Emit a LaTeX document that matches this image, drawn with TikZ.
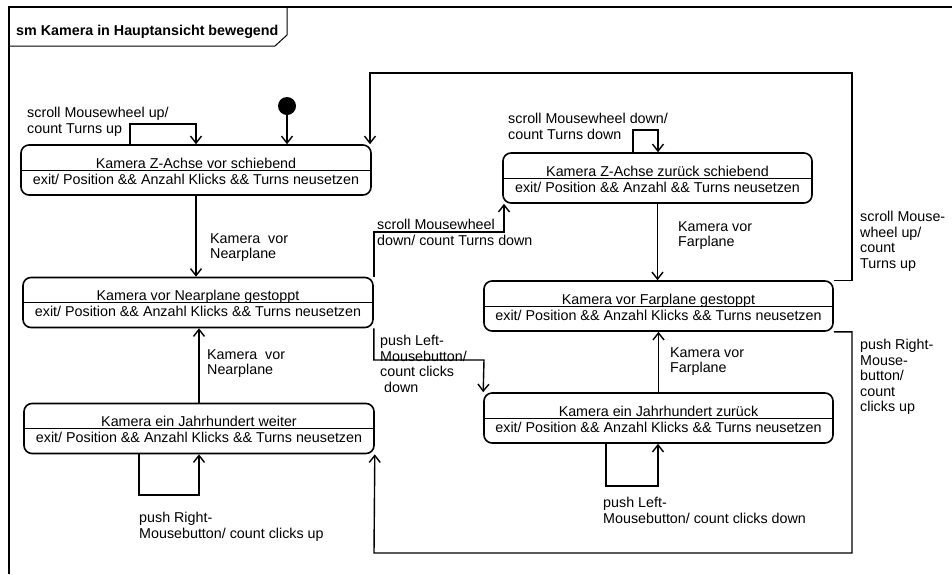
\documentclass[tikz,border=0pt]{standalone}
\usepackage{fontspec}
\setmainfont{Liberation Sans}
\usetikzlibrary{arrows.meta}
\begin{document}
\begin{tikzpicture}[x=1pt,y=-1pt,
  every node/.style={font=\fontsize{14.3}{15.5}\selectfont, inner sep=0pt},
  statebox/.style={draw, line width=1.6pt, rounded corners=8pt, minimum width=#1, minimum height=50pt, inner sep=0pt},
  divider/.style={line width=0.8pt},
  arr/.style={line width=1.4pt, -{Straight Barb[length=7pt,width=11pt]}},
  lbl/.style={anchor=north west, align=left},
  stxt/.style={anchor=base}]
\useasboundingbox (0,0) rectangle (952,574);
\fill[white] (0,0) rectangle (952,574);
% frame
\draw[line width=1.6pt] (952,7) -- (9,7) -- (9,574);
\draw[line width=1pt] (9,46) -- (275,46) -- (287,35) -- (287,7);
\node[anchor=base west] (title) at (16,35) {\bfseries sm Kamera in Hauptansicht bewegend};

% states
\node[statebox=350pt] (n1) at (196,170) {};
\draw[divider] (n1.west) -- (n1.east);
\node[stxt] (n1t) at (196,168) {Kamera Z-Achse vor schiebend};
\node[stxt] (n1e) at (196,184) {exit/ Position \&\& Anzahl Klicks \&\& Turns neusetzen};

\node[statebox=350pt] (n2) at (198,302.5) {};
\draw[divider] (n2.west) -- (n2.east);
\node[stxt] (n2t) at (198,300.5) {Kamera vor Nearplane gestoppt};
\node[stxt] (n2e) at (198,316.5) {exit/ Position \&\& Anzahl Klicks \&\& Turns neusetzen};

\node[statebox=350pt] (n3) at (199,428.5) {};
\draw[divider] (n3.west) -- (n3.east);
\node[stxt] (n3t) at (199,426.5) {Kamera ein Jahrhundert weiter};
\node[stxt] (n3e) at (199,442.5) {exit/ Position \&\& Anzahl Klicks \&\& Turns neusetzen};

\node[statebox=309pt] (n4) at (657.5,178) {};
\draw[divider] (n4.west) -- (n4.east);
\node[stxt] (n4t) at (657.5,176) {Kamera Z-Achse zurück schiebend};
\node[stxt] (n4e) at (657.5,192) {exit/ Position \&\& Anzahl \&\& Turns neusetzen};

\node[statebox=349pt] (n5) at (658.5,306) {};
\draw[divider] (n5.west) -- (n5.east);
\node[stxt] (n5t) at (658.5,304) {Kamera vor Farplane gestoppt};
\node[stxt] (n5e) at (658.5,320) {exit/ Position \&\& Anzahl Klicks \&\& Turns neusetzen};

\node[statebox=349pt] (n6) at (658.5,418) {};
\draw[divider] (n6.west) -- (n6.east);
\node[stxt] (n6t) at (658.5,416) {Kamera ein Jahrhundert zurück};
\node[stxt] (n6e) at (658.5,432) {exit/ Position \&\& Anzahl Klicks \&\& Turns neusetzen};

% initial state
\node[circle, fill=black, minimum size=18pt, inner sep=0pt] (init) at (287,106) {};
\draw[arr] (init) -- (init |- n1.north);

% transitions
\draw[arr] (130,0 |- n1.north) |- (196,124) -- (196,0 |- n1.north);
\draw[arr] (n1.south) -- (n1.south |- n2.north);
\draw[arr] (n3.north) -- (n3.north |- n2.south);
\draw[arr] (139,0 |- n3.south) |- (199,495) -- (199,0 |- n3.south);
\draw[arr] (n2.north east) |- (504,232) -- (504,0 |- n4.south);
\draw[arr] (n2.south east) |- (484,360) -- (n6.north west);
\draw[arr] (633,0 |- n4.north) |- (658,130) -- (658,0 |- n4.north);
\draw[arr] (n4.south) -- (n4.south |- n5.north);
\draw[arr] (n6.north) -- (n6.north |- n5.south);
\draw[arr] (606,0 |- n6.south) |- (658,486) -- (658,0 |- n6.south);
\draw[arr] (n5.north east) -- (852,0 |- n5.north east) |- (370,73) -- (370,0 |- n1.north);
\draw[arr] (n5.south east) -- (852,0 |- n5.south east) |- (374,553) -- (n3.south east);

% labels
\node[lbl] (l1) at (27,107) {scroll Mousewheel up/\\count Turns up};
\node[lbl] (l2) at (210,233) {Kamera\ \ vor\\Nearplane};
\node[lbl] (l3) at (207,349) {Kamera\ \ vor\\Nearplane};
\node[lbl] (l4) at (377,219) {scroll Mousewheel\\down/ count Turns down};
\node[lbl] (l5) at (380,335) {push Left-\\Mousebutton/\\count clicks\\\hspace*{4pt}down};
\node[lbl] (l6) at (508,113) {scroll Mousewheel down/\\count Turns down};
\node[lbl] (l7) at (678,221) {Kamera vor\\Farplane};
\node[lbl] (l8) at (670,347) {Kamera vor\\Farplane};
\node[lbl] (l9) at (860,211) {scroll Mouse-\\wheel up/\\count\\Turns up};
\node[lbl] (l10) at (860,339) {push Right-\\Mouse-\\button/\\count\\clicks up};
\node[lbl] (l11) at (139,512) {push Right-\\Mousebutton/ count clicks up};
\node[lbl] (l12) at (603,497) {push Left-\\Mousebutton/ count clicks down};
\end{tikzpicture}
\end{document}
